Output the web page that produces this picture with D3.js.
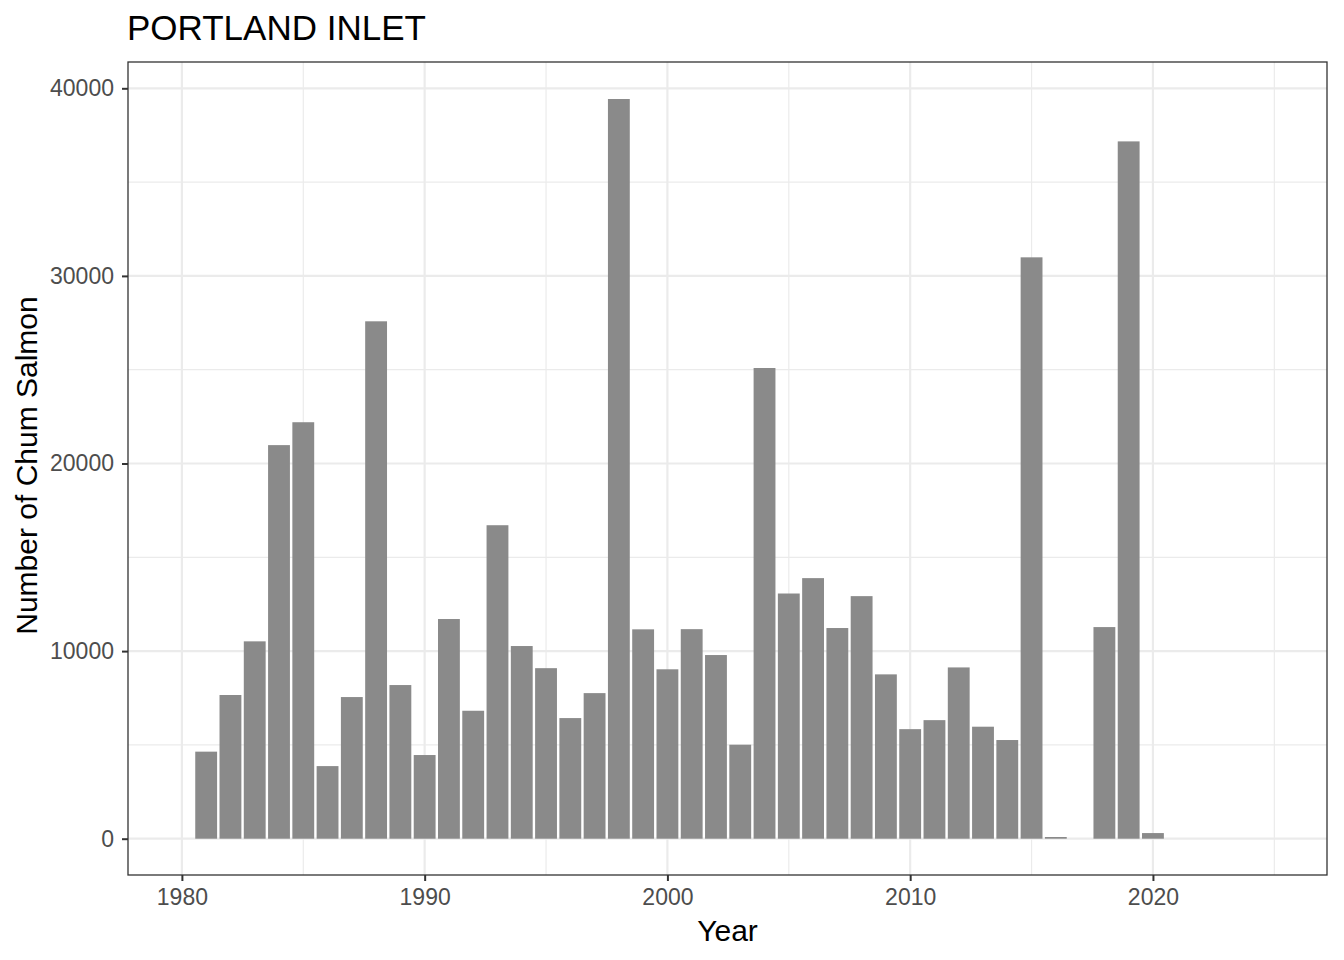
<!DOCTYPE html>
<html>
<head>
<meta charset="utf-8">
<script src="https://cdn.jsdelivr.net/npm/d3@7"></script>
<style>
  html, body { margin: 0; padding: 0; background: #ffffff; }
  svg { display: block; font-family: "Liberation Sans", Arial, Helvetica, sans-serif; }
</style>
</head>
<body>
<svg id="chart" width="1344" height="960"></svg>
<script>
// ---- data ----
const chartTitle = "PORTLAND INLET";
const xTitle = "Year";
const yTitle = "Number of Chum Salmon";
const years = [1981,1982,1983,1984,1985,1986,1987,1988,1989,1990,
               1991,1992,1993,1994,1995,1996,1997,1998,1999,2000,
               2001,2002,2003,2004,2005,2006,2007,2008,2009,2010,
               2011,2012,2013,2014,2015,2016,2018,2019,2020];
const counts = [4640,7660,10520,20980,22200,3870,7550,27580,8190,4460,
                11710,6820,16710,10270,9090,6430,7760,39430,11160,9030,
                11170,9790,5010,25090,13070,13890,11230,12930,8760,5840,
                6320,9130,5970,5260,30990,90,11280,37170,300];
const xMajorTicks = [1980,1990,2000,2010,2020];
const xMinorTicks = [1985,1995,2005,2015,2025];
const yMajorTicks = [0,10000,20000,30000,40000];
const yMinorTicks = [5000,15000,25000,35000];

// ---- layout ----
const svg = d3.select("#chart");
const panel = {left: 128, right: 1327, top: 62, bottom: 875};

const x = d3.scaleLinear().domain([1977.78, 2027.17]).range([panel.left, panel.right]);
const y = d3.scaleLinear().domain([-1935, 41402]).range([panel.bottom, panel.top]);

const gridCol = "#ebebeb";

// panel background
svg.append("rect")
  .attr("x", panel.left).attr("y", panel.top)
  .attr("width", panel.right - panel.left).attr("height", panel.bottom - panel.top)
  .attr("fill", "#ffffff");

const grid = svg.append("g");
// minor grid
grid.selectAll(".xminor").data(xMinorTicks).enter().append("line")
  .attr("x1", d => x(d)).attr("x2", d => x(d))
  .attr("y1", panel.top).attr("y2", panel.bottom)
  .attr("stroke", gridCol).attr("stroke-width", 1.2);
grid.selectAll(".yminor").data(yMinorTicks).enter().append("line")
  .attr("y1", d => y(d)).attr("y2", d => y(d))
  .attr("x1", panel.left).attr("x2", panel.right)
  .attr("stroke", gridCol).attr("stroke-width", 1.2);
// major grid
grid.selectAll(".xmajor").data(xMajorTicks).enter().append("line")
  .attr("x1", d => x(d)).attr("x2", d => x(d))
  .attr("y1", panel.top).attr("y2", panel.bottom)
  .attr("stroke", gridCol).attr("stroke-width", 2.2);
grid.selectAll(".ymajor").data(yMajorTicks).enter().append("line")
  .attr("y1", d => y(d)).attr("y2", d => y(d))
  .attr("x1", panel.left).attr("x2", panel.right)
  .attr("stroke", gridCol).attr("stroke-width", 2.2);

// bars
const data = years.map((yr, i) => ({year: yr, value: counts[i]}));
const barW = 0.9;
svg.append("g").selectAll("rect").data(data).enter().append("rect")
  .attr("x", d => x(d.year - barW / 2))
  .attr("width", d => x(d.year + barW / 2) - x(d.year - barW / 2))
  .attr("y", d => y(d.value))
  .attr("height", d => y(0) - y(d.value))
  .attr("fill", "#8a8a8a");

// panel border
svg.append("rect")
  .attr("x", panel.left).attr("y", panel.top)
  .attr("width", panel.right - panel.left).attr("height", panel.bottom - panel.top)
  .attr("fill", "none").attr("stroke", "#333333").attr("stroke-width", 1.3);

// axes
const xAxis = d3.axisBottom(x).tickValues(xMajorTicks).tickFormat(d3.format("d"))
  .tickSize(6).tickPadding(8);
const gx = svg.append("g").attr("transform", `translate(0,${panel.bottom})`).call(xAxis);
gx.select(".domain").remove();
gx.selectAll(".tick line").attr("stroke", "#333333").attr("stroke-width", 2);
gx.selectAll(".tick text").attr("fill", "#4d4d4d").attr("font-size", "23px")
  .attr("font-family", "Liberation Sans, Arial, sans-serif");

const yAxis = d3.axisLeft(y).tickValues(yMajorTicks).tickFormat(d3.format("d"))
  .tickSize(6).tickPadding(8);
const gy = svg.append("g").attr("transform", `translate(${panel.left},0)`).call(yAxis);
gy.select(".domain").remove();
gy.selectAll(".tick line").attr("stroke", "#333333").attr("stroke-width", 2);
gy.selectAll(".tick text").attr("fill", "#4d4d4d").attr("font-size", "23px")
  .attr("font-family", "Liberation Sans, Arial, sans-serif");

// titles
svg.append("text")
  .attr("x", 127).attr("y", 40)
  .attr("font-size", "35px").attr("fill", "#000")
  .text(chartTitle);

svg.append("text")
  .attr("x", (panel.left + panel.right) / 2).attr("y", 941)
  .attr("text-anchor", "middle")
  .attr("font-size", "30px").attr("fill", "#000")
  .text(xTitle);

svg.append("text")
  .attr("transform", `translate(37,${(panel.top + panel.bottom) / 2 - 3}) rotate(-90)`)
  .attr("text-anchor", "middle")
  .attr("font-size", "30px").attr("fill", "#000")
  .text(yTitle);
</script>
</body>
</html>
